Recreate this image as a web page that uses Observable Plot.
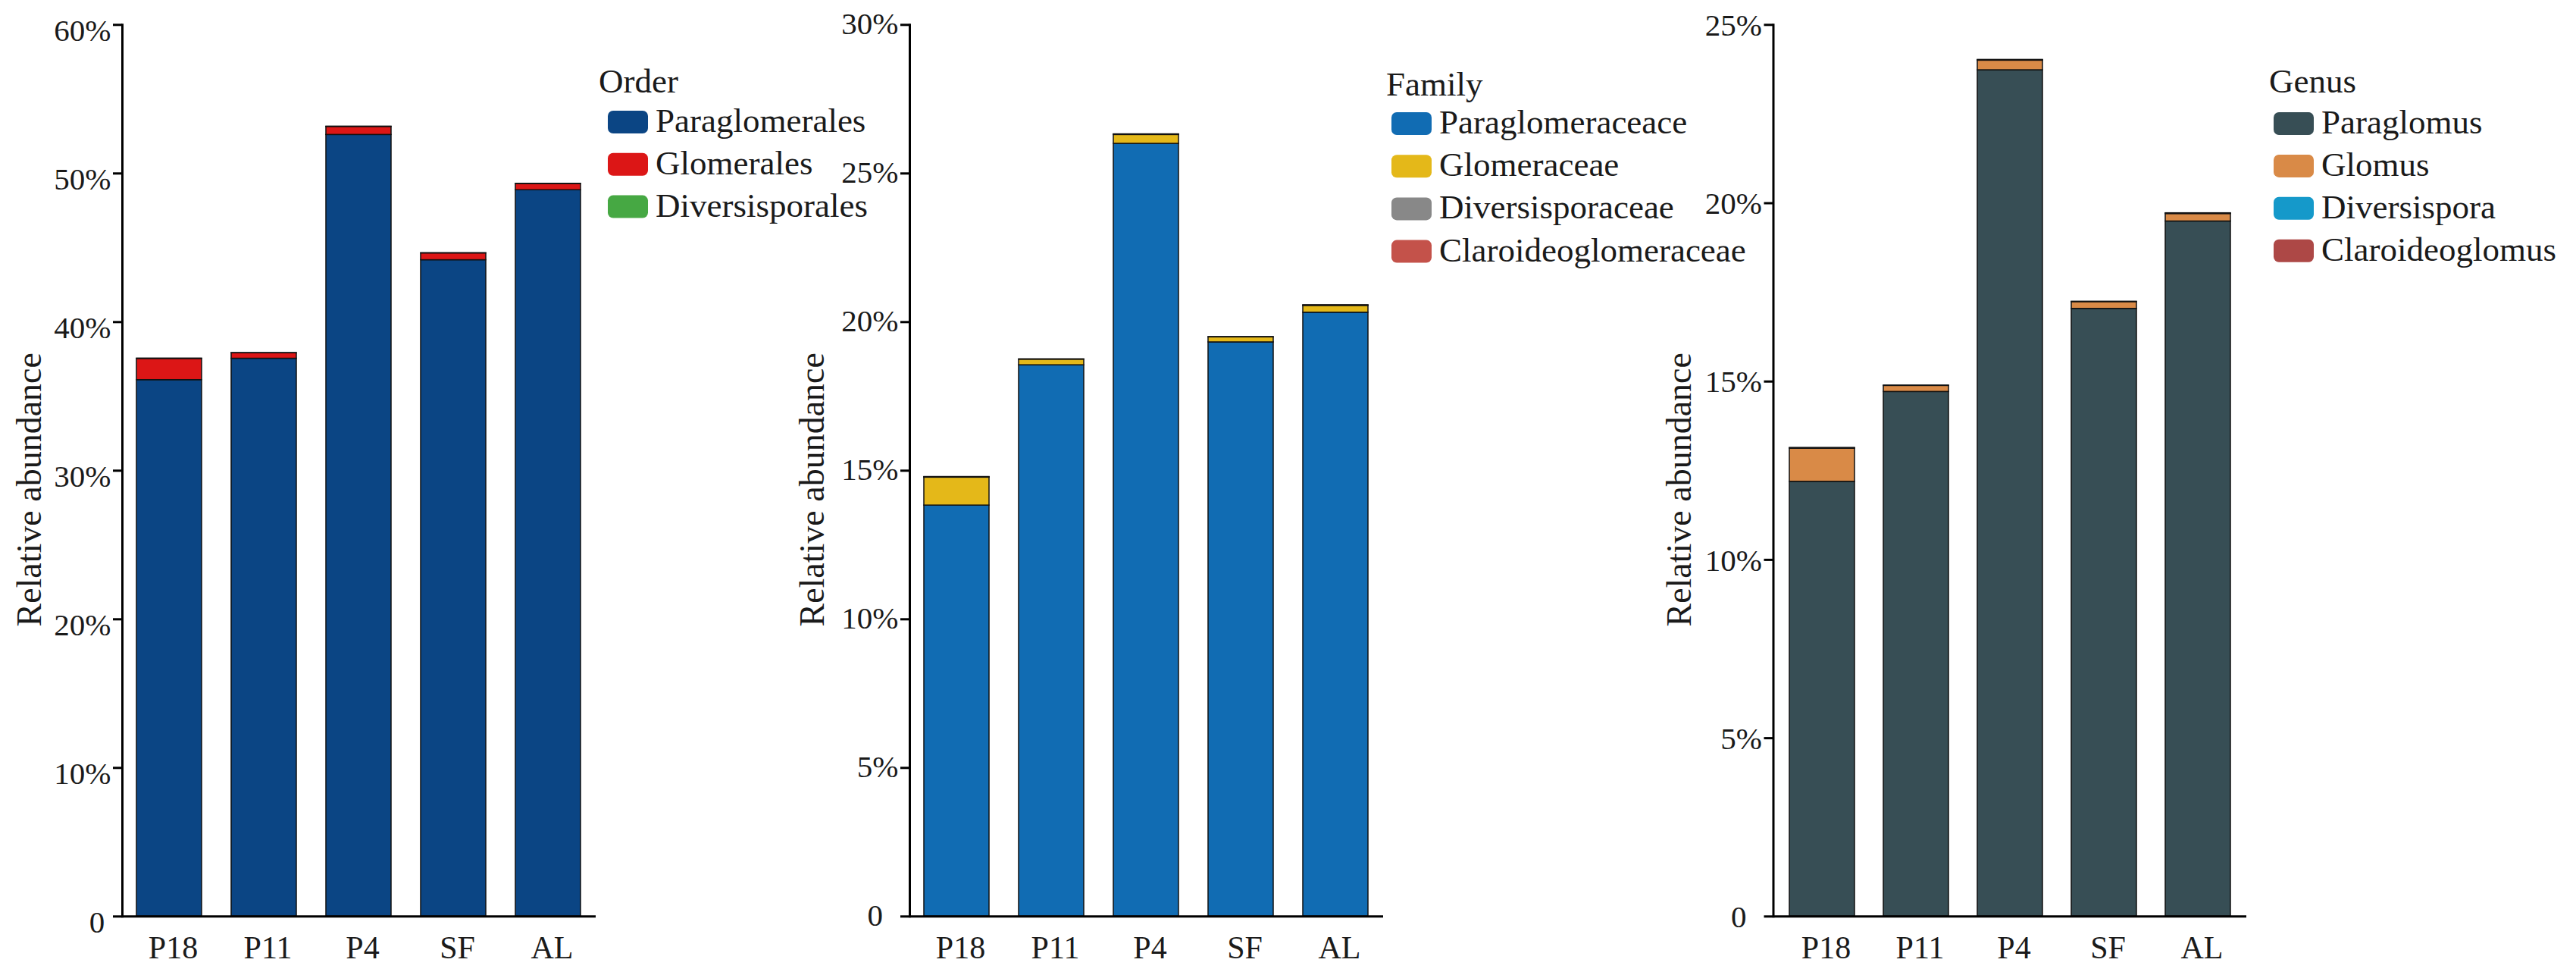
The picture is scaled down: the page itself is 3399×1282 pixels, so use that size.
<!DOCTYPE html>
<html>
<head>
<meta charset="utf-8">
<script src="https://cdn.jsdelivr.net/npm/d3@7"></script>
<script src="https://cdn.jsdelivr.net/npm/@observablehq/plot@0.6"></script>
<style>
  html, body { margin: 0; padding: 0; background: #fff; }
  #page { position: relative; width: 3399px; height: 1282px; background: #fff; overflow: hidden; }
  #page svg.panel { position: absolute; top: 0; max-width: none; }
  #legend { position: absolute; left: 0; top: 0; pointer-events: none; }
</style>
</head>
<body>
<div id="page"></div>
<script>
// ---------- data ----------
const samples = ["P18", "P11", "P4", "SF", "AL"];

const orderNames = ["Paraglomerales", "Glomerales", "Diversisporales"];
const orderColors = ["#0B4584", "#DC1616", "#46A843"];
const orderParaglomerales = [36.10, 37.54, 52.60, 44.17, 48.88];
const orderGlomerales     = [1.43, 0.37, 0.54, 0.46, 0.42];
const orderDiversisporales = [0.02, 0.01, 0.02, 0.01, 0.01];
const orderTicks = [0, 10, 20, 30, 40, 50, 60];

const familyNames = ["Paraglomeraceace", "Glomeraceae", "Diversisporaceae", "Claroideoglomeraceae"];
const familyColors = ["#116CB3", "#E4B819", "#888888", "#C4524A"];
const familyParaglomeraceae = [13.83, 18.55, 26.00, 19.32, 20.32];
const familyGlomeraceae     = [0.94, 0.19, 0.30, 0.17, 0.23];
const familyDiversisporaceae = [0.01, 0.01, 0.01, 0.01, 0.01];
const familyClaroideoglomeraceae = [0.01, 0.00, 0.01, 0.00, 0.01];
const familyTicks = [0, 5, 10, 15, 20, 25, 30];

const genusNames = ["Paraglomus", "Glomus", "Diversispora", "Claroideoglomus"];
const genusColors = ["#374E55", "#D98A47", "#1599CA", "#AD4846"];
const genusParaglomus = [12.19, 14.71, 23.73, 17.04, 19.49];
const genusGlomus     = [0.93, 0.17, 0.27, 0.19, 0.21];
const genusDiversispora = [0.01, 0.01, 0.01, 0.01, 0.01];
const genusClaroideoglomus = [0.01, 0.00, 0.01, 0.00, 0.01];
const genusTicks = [0, 5, 10, 15, 20, 25];

const legendTitles = ["Order", "Family", "Genus"];

// ---------- drawing ----------
const FONT = "'Liberation Serif', 'Times New Roman', serif";
const TEXT = "#1a1a1a";
const page = document.getElementById("page");

function toRows(names, series) {
  const rows = [];
  names.forEach((name, j) => samples.forEach((s, i) => rows.push({sample: s, taxon: name, value: series[j][i]})));
  return rows;
}

function panel(cfg) {
  const rows = toRows(cfg.names, cfg.series);
  const chart = Plot.plot({
    width: cfg.width,
    height: 1282,
    marginLeft: cfg.marginLeft,
    marginRight: cfg.marginRight,
    marginTop: 32.3,
    marginBottom: 1282 - 1208.3,
    style: {fontFamily: FONT, background: "transparent", color: TEXT, overflow: "visible"},
    x: {domain: samples, paddingInner: 0.31, paddingOuter: 0.155},
    y: {domain: [0, cfg.max]},
    color: {domain: cfg.names, range: cfg.colors},
    marks: [
      Plot.barY(rows, {x: "sample", y: "value", fill: "taxon", stroke: "#111", strokeWidth: 1.5}),
      Plot.ruleY([0], {stroke: "#000", strokeWidth: 3}),
      Plot.frame({anchor: "left", stroke: "#000", strokeWidth: 3}),
      Plot.axisY({ticks: cfg.ticks, tickSize: 12, strokeWidth: 3, stroke: "#000", tickFormat: () => "", label: null}),
      Plot.axisY({ticks: cfg.ticks, tickSize: 0, tickPadding: 15, dy: cfg.tickDy, fontSize: 41, fill: TEXT,
                  tickFormat: d => d === 0 ? "0" + cfg.zeroPad : d + "%", label: null}),
      Plot.axisX({tickSize: 0, tickPadding: 25, fontSize: 42, dx: 5, fill: TEXT, label: null}),
      Plot.text(["Relative abundance"], {text: d => d, frameAnchor: "left", textAnchor: "middle", rotate: -90,
                                         dx: cfg.labelDx, dy: 25, fontSize: 46, fill: TEXT})
    ]
  });
  chart.classList.add("panel");
  chart.style.left = cfg.left + "px";
  page.appendChild(chart);
}

panel({left: 0, width: 1000, marginLeft: 161, marginRight: 214, max: 60, ticks: orderTicks,
       names: orderNames, colors: orderColors, zeroPad: "\u2009",
       series: [orderParaglomerales, orderGlomerales, orderDiversisporales], tickDy: 8, labelDx: -122});
panel({left: 1000, width: 1133, marginLeft: 200, marginRight: 308, max: 30, ticks: familyTicks,
       names: familyNames, colors: familyColors, zeroPad: "\u2002",
       series: [familyParaglomeraceae, familyGlomeraceae, familyDiversisporaceae, familyClaroideoglomeraceae], tickDy: -1, labelDx: -128});
panel({left: 2133, width: 1266, marginLeft: 206.5, marginRight: 435, max: 25, ticks: genusTicks,
       names: genusNames, colors: genusColors, zeroPad: "\u2002",
       series: [genusParaglomus, genusGlomus, genusDiversispora, genusClaroideoglomus], tickDy: 1, labelDx: -124});

// ---------- legends ----------
const legendSvg = d3.select(page).append("svg")
  .attr("id", "legend").attr("width", 3399).attr("height", 1282)
  .style("font-family", FONT).style("fill", TEXT);

const legends = [
  {title: legendTitles[0], names: orderNames, colors: orderColors, tx: 790, ty: 122, sx: 802, sy: 146, step: 55.8},
  {title: legendTitles[1], names: familyNames, colors: familyColors, tx: 1829, ty: 126, sx: 1836, sy: 148, step: 56.2},
  {title: legendTitles[2], names: genusNames, colors: genusColors, tx: 2994, ty: 122, sx: 3000, sy: 148, step: 55.9}
];
legends.forEach(L => {
  const g = legendSvg.append("g");
  g.append("text").attr("x", L.tx).attr("y", L.ty).attr("font-size", 45).text(L.title);
  L.names.forEach((n, i) => {
    const y = L.sy + i * L.step;
    g.append("rect").attr("x", L.sx).attr("y", y).attr("width", 53).attr("height", 30)
      .attr("rx", 7).attr("fill", L.colors[i]);
    g.append("text").attr("x", L.sx + 63).attr("y", y + 28).attr("font-size", 45).text(n);
  });
});
</script>
</body>
</html>
